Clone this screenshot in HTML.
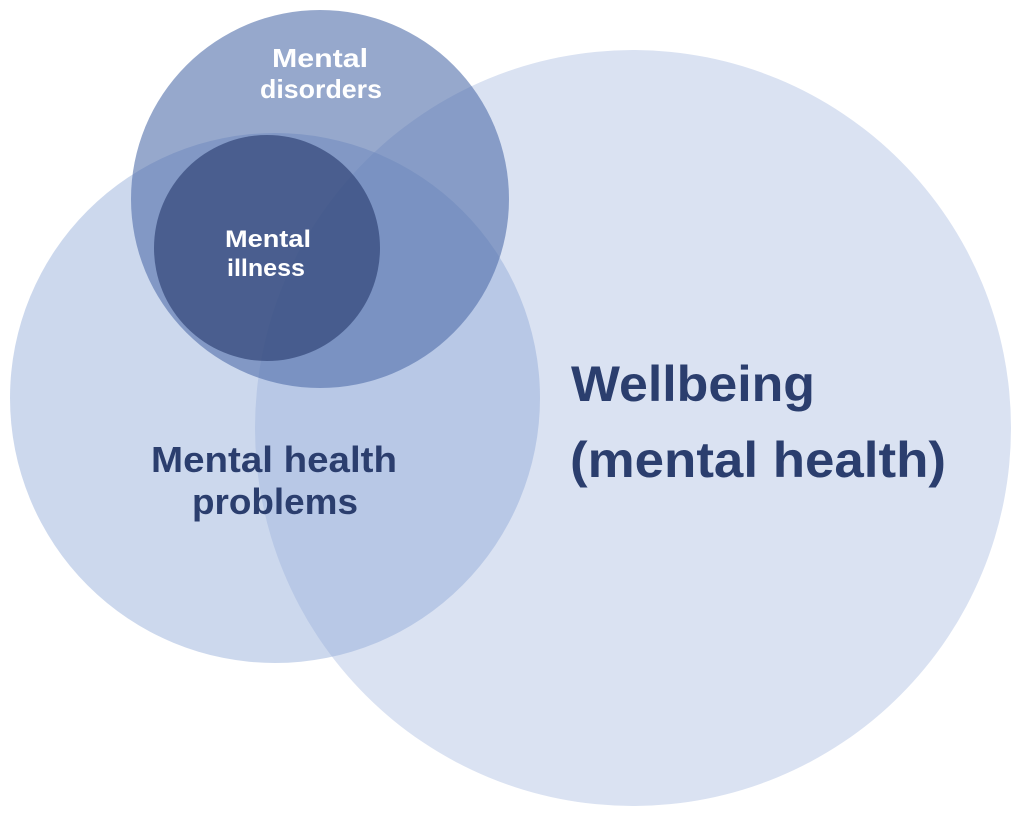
<!DOCTYPE html>
<html><head><style>html,body{margin:0;padding:0;background:#fff;}</style></head>
<body>
<svg width="1024" height="815" viewBox="0 0 1024 815" xmlns="http://www.w3.org/2000/svg" font-family="Liberation Sans, sans-serif" font-weight="bold">
<circle cx="633" cy="428" r="378" fill="rgb(218,226,242)"/>
<circle cx="275" cy="398" r="265" fill="rgba(143,168,214,0.45)"/>
<circle cx="320" cy="199" r="189" fill="rgba(80,110,170,0.6)"/>
<circle cx="267" cy="248" r="113" fill="rgba(50,70,120,0.7)"/>
<g fill="#fff" text-anchor="middle" font-size="26">
<text x="320" y="67" textLength="96" lengthAdjust="spacingAndGlyphs">Mental</text>
<text x="321" y="98" textLength="122" lengthAdjust="spacingAndGlyphs">disorders</text>
</g>
<g fill="#fff" text-anchor="middle" font-size="24">
<text x="268" y="247" textLength="86" lengthAdjust="spacingAndGlyphs">Mental</text>
<text x="266" y="276" textLength="78" lengthAdjust="spacingAndGlyphs">illness</text>
</g>
<g fill="#2b3e6e" text-anchor="middle" font-size="36">
<text x="274" y="472" textLength="246" lengthAdjust="spacingAndGlyphs">Mental health</text>
<text x="275" y="514" textLength="166" lengthAdjust="spacingAndGlyphs">problems</text>
</g>
<g fill="#2b3e6e" font-size="50">
<text x="571" y="401" textLength="244" lengthAdjust="spacingAndGlyphs">Wellbeing</text>
<text x="570" y="477" textLength="376" lengthAdjust="spacingAndGlyphs">(mental health)</text>
</g>
</svg>
</body></html>
